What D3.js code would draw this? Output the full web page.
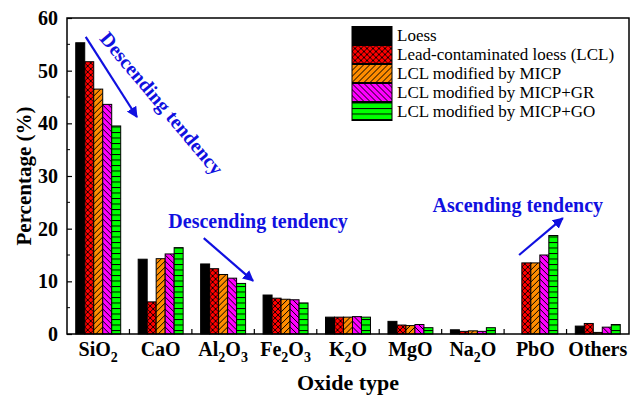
<!DOCTYPE html>
<html>
<head>
<meta charset="utf-8">
<title>Oxide composition</title>
<script src="https://d3js.org/d3.v7.min.js"></script>
<style>
  body { margin: 0; background: #fff; }
  svg text { font-family: "Liberation Serif", "Times New Roman", serif; }
</style>
</head>
<body>
<svg id="chart" width="633" height="396"></svg>
<script>
// categories (oxide, subscripts written as [main, sub] pieces)
var oxides = ["SiO2", "CaO", "Al2O3", "Fe2O3", "K2O", "MgO", "Na2O", "PbO", "Others"]
var oxideParts = [
  [["SiO", 0], ["2", 1]],
  [["CaO", 0]],
  [["Al", 0], ["2", 1], ["O", 0], ["3", 1]],
  [["Fe", 0], ["2", 1], ["O", 0], ["3", 1]],
  [["K", 0], ["2", 1], ["O", 0]],
  [["MgO", 0]],
  [["Na", 0], ["2", 1], ["O", 0]],
  [["PbO", 0]],
  [["Others", 0]]
]

var seriesNames = ["Loess", "Lead-contaminated loess (LCL)", "LCL modified by MICP",
                   "LCL modified by MICP+GR", "LCL modified by MICP+GO"]

// values (%)
var loess    = [55.3, 14.2, 13.3, 7.4, 3.2, 2.4, 0.8, 0.0, 1.5]
var lcl      = [51.7, 6.1, 12.4, 6.8, 3.2, 1.7, 0.5, 13.5, 2.0]
var lclMicp  = [46.5, 14.3, 11.3, 6.6, 3.2, 1.6, 0.6, 13.5, 0.3]
var lclGr    = [43.6, 15.2, 10.6, 6.5, 3.3, 1.8, 0.5, 15.0, 1.3]
var lclGo    = [39.5, 16.4, 9.6, 5.9, 3.2, 1.2, 1.2, 18.7, 1.8]
var seriesValues = [loess, lcl, lclMicp, lclGr, lclGo]

var yTicks = [0, 10, 20, 30, 40, 50, 60]

var serif = "Liberation Serif"
var svg = d3.select("#chart").attr("font-family", serif)
var pLeft = 67, pRight = 629, pTop = 18, pBottom = 334

var x0 = d3.scaleBand().domain(oxides).range([pLeft, pRight])
    .paddingInner(0.28).paddingOuter(0.14)
var x1 = d3.scaleBand().domain(seriesNames).range([0, x0.bandwidth()])
var y = d3.scaleLinear().domain([0, 60]).range([pBottom, pTop])
// position helper for annotations, in "group" units
var xg = d3.scaleLinear().domain([0, oxides.length]).range([pLeft, pRight])

// fill patterns
var defs = svg.append("defs")
function hatch(id, bg, draw) {
  var p = defs.append("pattern").attr("id", id)
    .attr("patternUnits", "userSpaceOnUse").attr("width", 6).attr("height", 6)
  p.append("rect").attr("width", 6).attr("height", 6).attr("fill", bg)
  draw(p)
}
hatch("p1", "#ff0000", function(p) {
  p.append("path").attr("d", "M0,0L6,6M6,0L0,6M-1,5L1,7M5,-1L7,1M-1,1L1,-1M5,7L7,5")
    .attr("stroke", "#000").attr("stroke-width", 0.9)
})
hatch("p2", "#ff8c00", function(p) {
  p.append("path").attr("d", "M0,6L6,0M-1,1L1,-1M5,7L7,5")
    .attr("stroke", "#000").attr("stroke-width", 1)
})
hatch("p3", "#ff00ff", function(p) {
  p.append("path").attr("d", "M0,0L6,6M-1,5L1,7M5,-1L7,1")
    .attr("stroke", "#000").attr("stroke-width", 1)
})
var pg = defs.append("pattern").attr("id", "p4")
  .attr("patternUnits", "userSpaceOnUse").attr("width", 6).attr("height", 5.5)
pg.append("rect").attr("width", 6).attr("height", 5.5).attr("fill", "#00ff00")
pg.append("line").attr("x1", 0).attr("x2", 6).attr("y1", 0.5).attr("y2", 0.5)
  .attr("stroke", "#000").attr("stroke-width", 1)

var fills = ["#000000", "url(#p1)", "url(#p2)", "url(#p3)", "url(#p4)"]

// bars
var groups = svg.append("g").selectAll("g")
  .data(oxides).join("g")
  .attr("transform", function(d) { return "translate(" + x0(d) + ",0)" })

groups.selectAll("rect")
  .data(function(d, i) {
    return seriesNames.map(function(s, j) { return { s: s, j: j, v: seriesValues[j][i] } })
  })
  .join("rect")
  .filter(function(d) { return d.v > 0 })
  .attr("x", function(d) { return x1(d.s) })
  .attr("width", x1.bandwidth())
  .attr("y", function(d) { return y(d.v) })
  .attr("height", function(d) { return y(0) - y(d.v) })
  .attr("fill", function(d) { return fills[d.j] })
  .attr("stroke", "#000").attr("stroke-width", 1)

// frame
svg.append("rect").attr("x", pLeft).attr("y", pTop)
  .attr("width", pRight - pLeft).attr("height", pBottom - pTop)
  .attr("fill", "none").attr("stroke", "#000").attr("stroke-width", 1.5)

// y axis, inward ticks
var yAxis = d3.axisLeft(y).tickValues(yTicks).tickSizeInner(-5).tickSizeOuter(0).tickPadding(9)
var ga = svg.append("g").attr("transform", "translate(" + pLeft + ",0)").call(yAxis)
  .attr("font-family", serif)
ga.select(".domain").remove()
ga.selectAll("text").attr("font-size", 20).attr("font-weight", "bold").attr("fill", "#000")
ga.selectAll("line").attr("stroke-width", 1.2)
// minor ticks
svg.append("g").selectAll("line")
  .data(d3.range(5, 60, 10)).join("line")
  .attr("x1", pLeft).attr("x2", pLeft + 3)
  .attr("y1", function(d) { return y(d) }).attr("y2", function(d) { return y(d) })
  .attr("stroke", "#000").attr("stroke-width", 1)

// x ticks between groups
svg.append("g").selectAll("line")
  .data(d3.range(1, oxides.length)).join("line")
  .attr("x1", function(i) { return xg(i) }).attr("x2", function(i) { return xg(i) })
  .attr("y1", pBottom).attr("y2", pBottom - 5)
  .attr("stroke", "#000").attr("stroke-width", 1.2)

// x tick labels with subscripts
var xl = svg.append("g").selectAll("text")
  .data(oxides).join("text")
  .attr("x", function(d) { return x0(d) + x0.bandwidth() / 2 })
  .attr("y", 356)
  .attr("text-anchor", "middle").attr("font-size", 20).attr("font-weight", "bold")
xl.each(function(d, i) {
  var t = d3.select(this)
  var prev = 0
  oxideParts[i].forEach(function(part) {
    var cur = part[1]
    t.append("tspan").text(part[0])
      .attr("font-size", cur ? 14 : 20)
      .attr("dy", cur === prev ? 0 : (cur ? 6 : -6))
    prev = cur
  })
})

// axis titles
svg.append("text").attr("x", (pLeft + pRight) / 2).attr("y", 390)
  .attr("text-anchor", "middle").attr("font-size", 22).attr("font-weight", "bold")
  .text("Oxide type")
svg.append("text").attr("transform", "translate(31," + ((pTop + pBottom) / 2) + ") rotate(-90)")
  .attr("text-anchor", "middle").attr("font-size", 21).attr("font-weight", "bold")
  .text("Percentage (%)")

// legend
var lg = svg.append("g").selectAll("g")
  .data(seriesNames).join("g")
  .attr("transform", function(d, i) { return "translate(352," + (26.5 + i * 19) + ")" })
lg.append("rect").attr("width", 40).attr("height", 18)
  .attr("fill", function(d, i) { return fills[i] })
  .attr("stroke", "#000").attr("stroke-width", 1)
lg.append("text").attr("x", 45).attr("y", 14).attr("font-size", 17)
  .text(function(d) { return d })

// annotations
var blue = "#1010e0"
defs.append("marker").attr("id", "arr").attr("viewBox", "0 0 10 10")
  .attr("refX", 9).attr("refY", 5).attr("markerWidth", 5).attr("markerHeight", 5)
  .attr("orient", "auto")
  .append("path").attr("d", "M0,0L10,5L0,10Z").attr("fill", blue)

var arrows = [
  [0.30, 56.4, 1.12, 41.2],
  [2.19, 18.2, 2.98, 10.1],
  [7.24, 15.0, 7.94, 22.0]
]
svg.append("g").selectAll("line").data(arrows).join("line")
  .attr("x1", function(d) { return xg(d[0]) }).attr("y1", function(d) { return y(d[1]) })
  .attr("x2", function(d) { return xg(d[2]) }).attr("y2", function(d) { return y(d[3]) })
  .attr("stroke", blue).attr("stroke-width", 2.2).attr("marker-end", "url(#arr)")

svg.append("text")
  .attr("transform", "translate(" + xg(0.51) + "," + y(56.0) + ") rotate(50)")
  .attr("font-size", 20).attr("font-weight", "bold").attr("fill", blue)
  .text("Descending tendency")
svg.append("text").attr("x", xg(3.06)).attr("y", y(20.1))
  .attr("text-anchor", "middle").attr("font-size", 20).attr("font-weight", "bold").attr("fill", blue)
  .text("Descending tendency")
svg.append("text").attr("x", xg(7.22)).attr("y", y(23.1))
  .attr("text-anchor", "middle").attr("font-size", 20).attr("font-weight", "bold").attr("fill", blue)
  .text("Ascending tendency")
</script>
</body>
</html>
